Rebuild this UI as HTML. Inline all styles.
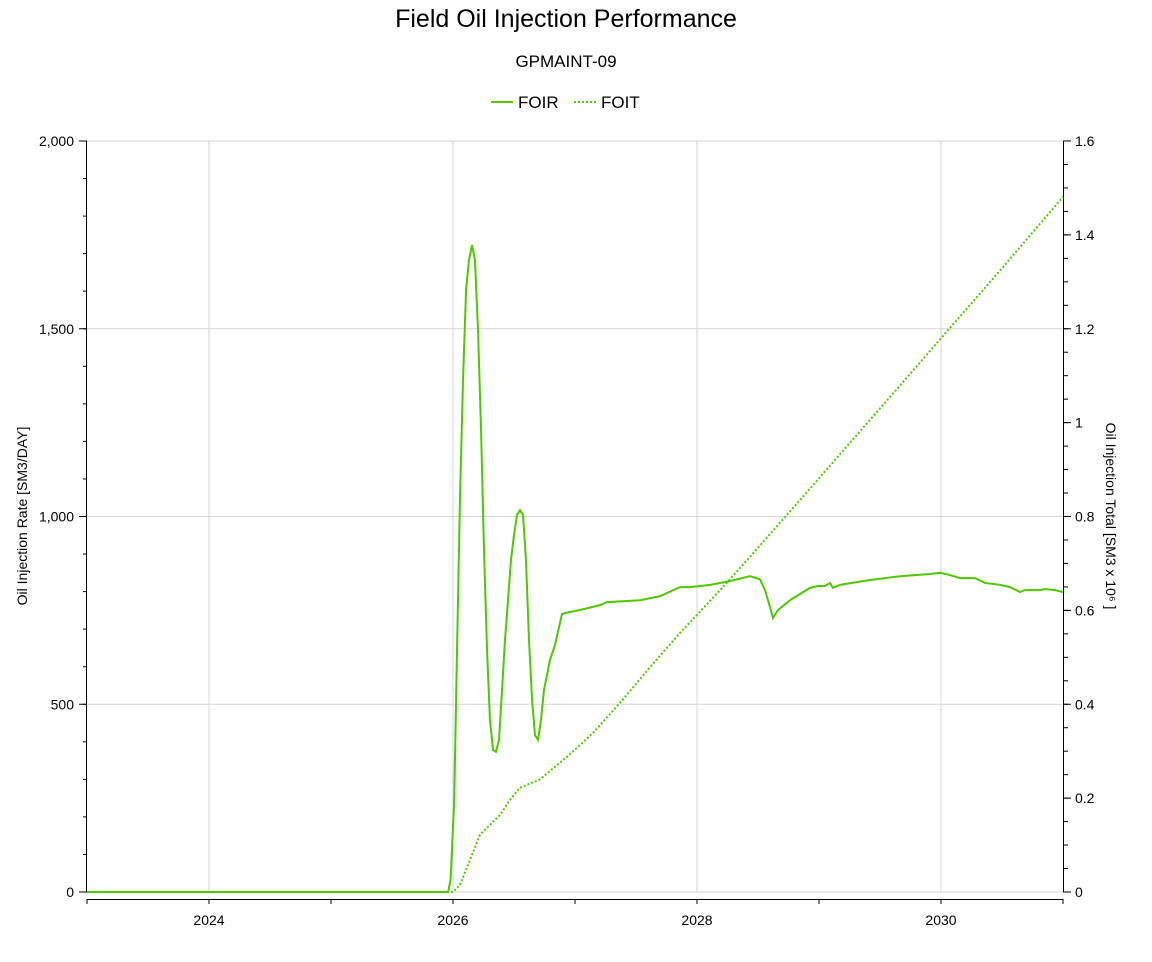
<!DOCTYPE html>
<html><head><meta charset="utf-8"><style>
body{margin:0;background:#fff;width:1152px;height:957px;overflow:hidden;font-family:"Liberation Sans",sans-serif}
</style></head><body>
<svg id="chart" width="1152" height="957" xmlns="http://www.w3.org/2000/svg" font-family="Liberation Sans, sans-serif">
<text x="566" y="27" font-size="25" text-anchor="middle">Field Oil Injection Performance</text>
<text x="566" y="67" font-size="17" text-anchor="middle">GPMAINT-09</text>
<g>
<line x1="491" y1="102" x2="513" y2="102" stroke="#4fc800" stroke-width="2"/>
<text x="518" y="108" font-size="17">FOIR</text>
<line x1="574" y1="102" x2="596" y2="102" stroke="#4fc800" stroke-width="2" stroke-dasharray="2,2"/>
<text x="601" y="108" font-size="17">FOIT</text>
</g>
<g id="grid"></g>
<g id="axes"></g>
<g id="series"></g>
<text transform="translate(27,516) rotate(-90)" font-size="14" text-anchor="middle">Oil Injection Rate [SM3/DAY]</text>
<text transform="translate(1106,516) rotate(90)" font-size="14" text-anchor="middle">Oil Injection Total [SM3 x 10⁶ ]</text>
</svg>
<script>
const xTicks=[2024,2026,2028,2030];
const xMinor=[2023,2024,2025,2026,2027,2028,2029,2030,2031];
const yLeftTicks=[0,500,1000,1500,2000];
const yRightTicks=[0,0.2,0.4,0.6,0.8,1,1.2,1.4,1.6];
const foirYears=[2023,2025.96,2025.98,2026.01,2026.033,2026.057,2026.082,2026.107,2026.131,2026.156,2026.18,2026.205,2026.23,2026.254,2026.279,2026.303,2026.328,2026.352,2026.377,2026.402,2026.426,2026.451,2026.475,2026.5,2026.525,2026.549,2026.574,2026.598,2026.623,2026.648,2026.672,2026.697,2026.721,2026.746,2026.795,2026.836,2026.893,2026.918,2027.041,2027.205,2027.262,2027.533,2027.697,2027.861,2027.943,2028.107,2028.27,2028.434,2028.516,2028.557,2028.598,2028.623,2028.664,2028.762,2028.926,2028.992,2029.049,2029.09,2029.115,2029.172,2029.418,2029.664,2029.91,2029.992,2030.074,2030.156,2030.279,2030.361,2030.484,2030.566,2030.648,2030.689,2030.811,2030.852,2030.934,2031];
const foirValues=[0,0,32,245,644,1044,1363,1603,1683,1723,1683,1497,1230,911,644,458,378,373,405,538,671,777,884,951,1004,1017,1004,884,671,511,418,405,458,538,618,658,740,743,751,764,772,777,788,812,812,818,828,841,833,804,759,730,751,777,810,815,815,823,810,818,831,841,847,850,844,836,836,823,818,812,799,804,804,807,804,799];
const foitYears=[2023,2026,2026.057,2026.139,2026.221,2026.303,2026.385,2026.467,2026.549,2026.713,2026.934,2027.148,2027.369,2027.615,2027.861,2028.189,2028.434,2028.844,2029.254,2029.664,2030.074,2030.484,2031];
const foitValues=[0,0,0.015,0.068,0.122,0.143,0.164,0.196,0.222,0.240,0.288,0.339,0.403,0.479,0.552,0.643,0.714,0.835,0.957,1.079,1.202,1.324,1.481];
const L=87,R=1063,T=141,B=892;
const xs=y=>L+(y-2023)/8*(R-L);
const yl=v=>B-v/2000*(B-T);
const yr=v=>B-v/1.6*(B-T);
const NS="http://www.w3.org/2000/svg";
function mk(p,t,a){const e=document.createElementNS(NS,t);for(const k in a)e.setAttribute(k,a[k]);p.appendChild(e);return e;}
const grid=document.getElementById('grid'),axes=document.getElementById('axes'),ser=document.getElementById('series');
xTicks.forEach(t=>{const l=mk(grid,'line',{x1:xs(t),x2:xs(t),y1:T,y2:B,stroke:'#d4d4d4'});


const tx=mk(axes,'text',{x:xs(t),y:925,'font-size':14,'text-anchor':'middle'});tx.textContent=t;

});
for(let v=0;v<=2000;v+=100){mk(axes,'line',{x1:83,x2:87,y1:yl(v),y2:yl(v),stroke:'#000'});}
for(let i=0;i<=32;i++){const v=i*0.05;mk(axes,'line',{x1:1063,x2:1068,y1:yr(v),y2:yr(v),stroke:'#000'});}
yLeftTicks.forEach(t=>{const l=mk(grid,'line',{x1:L,x2:R,y1:yl(t),y2:yl(t),stroke:'#d4d4d4'});


mk(axes,'line',{x1:79,x2:87,y1:yl(t),y2:yl(t),stroke:'#000'});
const tx=mk(axes,'text',{x:74,y:yl(t)+5,'font-size':14,'text-anchor':'end'});tx.textContent=t.toLocaleString('en-US');

});
yRightTicks.forEach(t=>{mk(axes,'line',{x1:1063,x2:1071,y1:yr(t),y2:yr(t),stroke:'#000'});
const tx=mk(axes,'text',{x:1075,y:yr(t)+5,'font-size':14});tx.textContent=String(t);

});
mk(axes,'line',{x1:86.5,x2:86.5,y1:T,y2:B,stroke:'#000'});
mk(axes,'line',{x1:1063.5,x2:1063.5,y1:T,y2:B,stroke:'#000'});
mk(axes,'line',{x1:L,x2:R,y1:899.5,y2:899.5,stroke:'#000'});
xMinor.forEach(t=>mk(axes,'line',{x1:xs(t),x2:xs(t),y1:899,y2:904,stroke:'#000'}));
const p1=mk(ser,'polyline',{points:foirYears.map((y,i)=>xs(y)+','+yl(foirValues[i])).join(' '),fill:'none',stroke:'#4fc800','stroke-width':2});


const p2=mk(ser,'polyline',{points:foitYears.map((y,i)=>xs(y)+','+yr(foitValues[i])).join(' '),fill:'none',stroke:'#4fc800','stroke-width':2,'stroke-dasharray':'2,2'});


</script>
</body></html>
